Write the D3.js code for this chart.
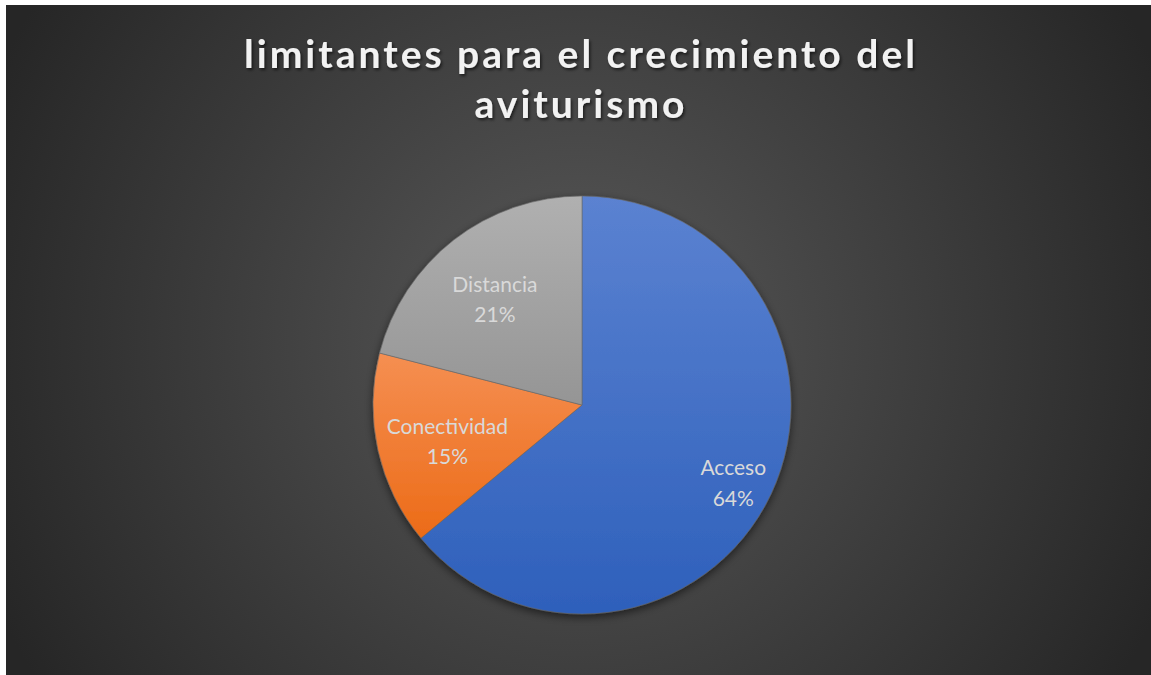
<!DOCTYPE html>
<html>
<head>
<meta charset="utf-8">
<script src="https://cdn.jsdelivr.net/npm/d3@7/dist/d3.min.js"></script>
<style>
  html, body { margin: 0; padding: 0; background: #ffffff; }
  svg { display: block; }
</style>
</head>
<body>
<script>
const categories = ["Acceso", "Conectividad", "Distancia"];
const values = [64, 15, 21];
const titleLines = ["limitantes para el crecimiento del", "aviturismo"];

const W = 1151, H = 675;
const svg = d3.select("body").append("svg").attr("width", W).attr("height", H);
const defs = svg.append("defs");

const bg = defs.append("radialGradient").attr("id", "bg")
  .attr("gradientUnits", "userSpaceOnUse")
  .attr("cx", 578).attr("cy", 340).attr("r", 640);
bg.append("stop").attr("offset", "0%").attr("stop-color", "#595959");
bg.append("stop").attr("offset", "100%").attr("stop-color", "#262626");

const sliceColors = {
  "Acceso": ["#5b82d1", "#2e60bb"],
  "Conectividad": ["#f58f52", "#ec6b17"],
  "Distancia": ["#b0b0b0", "#959595"]
};
categories.forEach((c, i) => {
  const g = defs.append("linearGradient").attr("id", "g" + i)
    .attr("x1", 0).attr("y1", 0).attr("x2", 0).attr("y2", 1);
  g.append("stop").attr("offset", "0%").attr("stop-color", sliceColors[c][0]);
  g.append("stop").attr("offset", "100%").attr("stop-color", sliceColors[c][1]);
});

const shadow = defs.append("filter").attr("id", "shadow")
  .attr("x", "-20%").attr("y", "-20%").attr("width", "140%").attr("height", "140%");
shadow.append("feDropShadow").attr("dx", 0).attr("dy", 3).attr("stdDeviation", 4)
  .attr("flood-color", "#000").attr("flood-opacity", 0.55);

const tshadow = defs.append("filter").attr("id", "tshadow")
  .attr("x", "-10%").attr("y", "-30%").attr("width", "120%").attr("height", "160%");
tshadow.append("feDropShadow").attr("dx", 1.5).attr("dy", 2).attr("stdDeviation", 1.5)
  .attr("flood-color", "#000").attr("flood-opacity", 0.6);

svg.append("rect").attr("x", 6).attr("y", 5).attr("width", W - 6).attr("height", H - 5)
  .attr("fill", "url(#bg)");

const title = svg.append("g").attr("filter", "url(#tshadow)");
title.selectAll("text").data(titleLines).join("text")
  .attr("x", 581)
  .attr("y", (d, i) => 68 + i * 50)
  .attr("text-anchor", "middle")
  .attr("font-family", "Lato, 'Open Sans', sans-serif")
  .attr("font-weight", "bold")
  .attr("font-size", 39)
  .attr("letter-spacing", 3)
  .attr("fill", "#f2f2f2")
  .text(d => d);

const cx = 582, cy = 405, R = 209;
const pie = d3.pie().sort(null).value(d => d.v);
const data = categories.map((c, i) => ({ c, v: values[i], i }));
const arcs = pie(data);
const arc = d3.arc().innerRadius(0).outerRadius(R);

const pg = svg.append("g").attr("transform", `translate(${cx},${cy})`);
pg.append("g").attr("filter", "url(#shadow)")
  .selectAll("path").data(arcs).join("path")
  .attr("d", arc)
  .attr("fill", d => `url(#g${d.data.i})`)
  .attr("stroke", "#6a6a6a")
  .attr("stroke-width", 0.6);

const labelRadius = { "Acceso": 0.8, "Conectividad": 0.66, "Distancia": 0.68 };
const fmt = d3.format(".0%");
const total = d3.sum(values);
const lg = pg.append("g");
arcs.forEach(a => {
  const la = d3.arc().innerRadius(R * labelRadius[a.data.c]).outerRadius(R * labelRadius[a.data.c]);
  const [x, y] = la.centroid(a);
  const t = lg.append("text")
    .attr("x", x).attr("y", y)
    .attr("text-anchor", "middle")
    .attr("font-family", "Lato, 'Open Sans', sans-serif")
    .attr("font-size", 21)
    .attr("fill", "#d9d9d9");
  t.append("tspan").attr("x", x).attr("dy", "-0.05em").text(a.data.c);
  t.append("tspan").attr("x", x).attr("dy", "1.45em").text(fmt(a.data.v / total));
});
</script>
</body>
</html>
